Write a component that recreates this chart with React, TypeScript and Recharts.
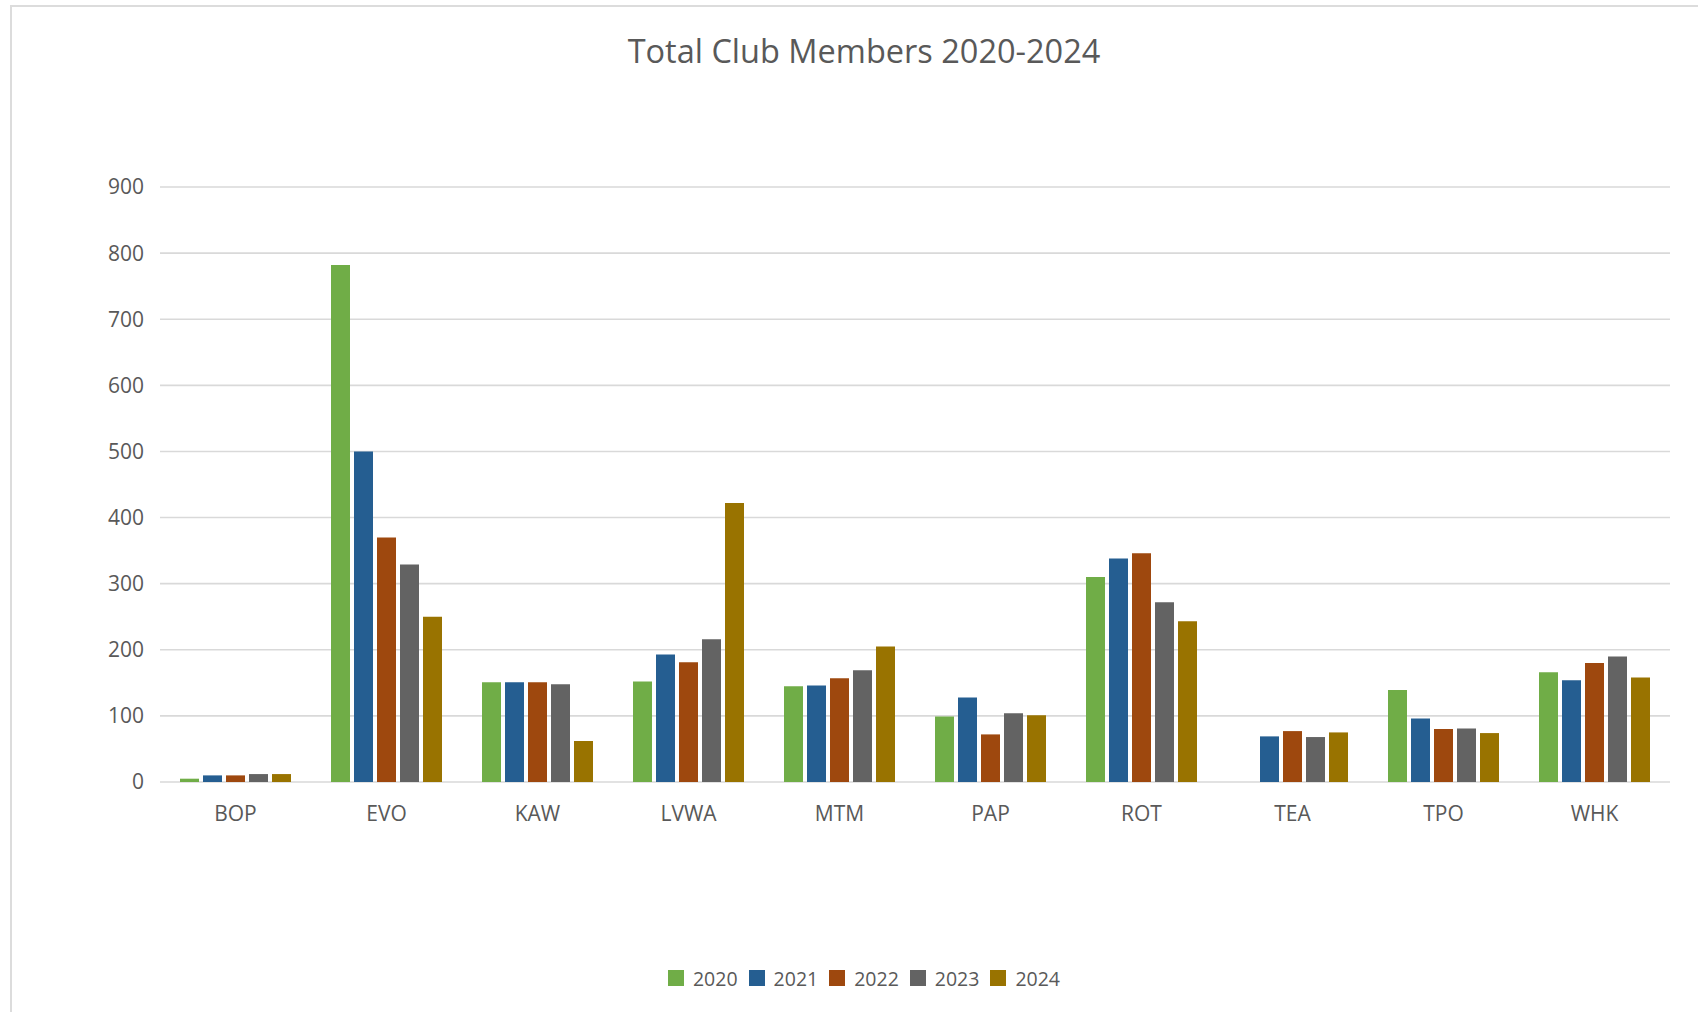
import React from 'react';
import { BarChart, Bar, XAxis, YAxis, CartesianGrid, Legend } from 'recharts';

const categories = ['BOP', 'EVO', 'KAW', 'LVWA', 'MTM', 'PAP', 'ROT', 'TEA', 'TPO', 'WHK'];
const years = ['2020', '2021', '2022', '2023', '2024'];
const colors = ['#70AD47', '#255E91', '#9E480E', '#636363', '#997300'];
const s2020 = [5, 782, 151, 152, 145, 99, 310, null, 139, 166];
const s2021 = [10, 500, 151, 193, 146, 128, 338, 69, 96, 154];
const s2022 = [10, 370, 151, 181, 157, 72, 346, 77, 80, 180];
const s2023 = [12, 329, 148, 216, 169, 104, 272, 68, 81, 190];
const s2024 = [12, 250, 62, 422, 205, 101, 243, 75, 74, 158];
const yTicks = [0, 100, 200, 300, 400, 500, 600, 700, 800, 900];

const seriesValues = [s2020, s2021, s2022, s2023, s2024];
const data = categories.map((cat, i) => {
  const row: any = { cat };
  years.forEach((y, j) => {
    row['y' + y] = seriesValues[j][i];
  });
  return row;
});

const FONT = '"Open Sans", sans-serif';
const TEXT = '#595959';

const LegendContent = () => (
  <div
    style={{
      display: 'flex',
      justifyContent: 'center',
      alignItems: 'center',
      height: 40,
      width: 1698,
      paddingLeft: 30,
      boxSizing: 'border-box',
      fontFamily: FONT,
      fontSize: 19.5,
      color: TEXT,
    }}
  >
    {years.map((y, i) => (
      <div key={y} style={{ display: 'flex', alignItems: 'center', marginRight: i < years.length - 1 ? 11 : 0 }}>
        <div style={{ width: 16, height: 16, background: colors[i], marginRight: 9 }} />
        <span>{y}</span>
      </div>
    ))}
  </div>
);

export default function App() {
  return (
    <div
      style={{
        position: 'absolute',
        left: 0,
        top: 0,
        width: 1698,
        height: 1012,
        overflow: 'hidden',
        background: '#ffffff',
      }}
    >
      <div
        style={{
          position: 'absolute',
          left: 10,
          top: 5,
          width: 2000,
          height: 2000,
          border: '2px solid #DCDCDC',
        }}
      />
      <div
        style={{
          position: 'absolute',
          left: 0,
          top: 34,
          width: 1728,
          textAlign: 'center',
          fontFamily: FONT,
          fontSize: 32.5,
          lineHeight: '33px',
          color: TEXT,
          whiteSpace: 'nowrap',
        }}
      >
        Total Club Members 2020-2024
      </div>
      <div style={{ position: 'absolute', left: 0, top: 0 }}>
        <BarChart
          width={1698}
          height={1012}
          data={data}
          margin={{ top: 187, right: 28, left: 0, bottom: 14 }}
          barSize={19}
          barGap={4}
        >
          <CartesianGrid vertical={false} stroke="#D9D9D9" strokeWidth={1.6} />
          <XAxis
            dataKey="cat"
            height={176}
            interval={0}
            tickSize={0}
            tickMargin={24}
            axisLine={false}
            tickLine={false}
            tick={{ fontFamily: FONT, fontSize: 21, fill: TEXT }}
          />
          <YAxis
            type="number"
            domain={[0, 900]}
            ticks={yTicks}
            interval={0}
            width={160}
            tickSize={0}
            tickMargin={16}
            axisLine={false}
            tickLine={false}
            tick={{ fontFamily: FONT, fontSize: 21, fill: TEXT }}
          />
          <Legend
            verticalAlign="bottom"
            align="left"
            wrapperStyle={{ left: 0, width: 1698 }}
            content={LegendContent}
          />
          {years.map((y, i) => (
            <Bar key={y} dataKey={'y' + y} name={y} fill={colors[i]} isAnimationActive={false} />
          ))}
        </BarChart>
      </div>
    </div>
  );
}
